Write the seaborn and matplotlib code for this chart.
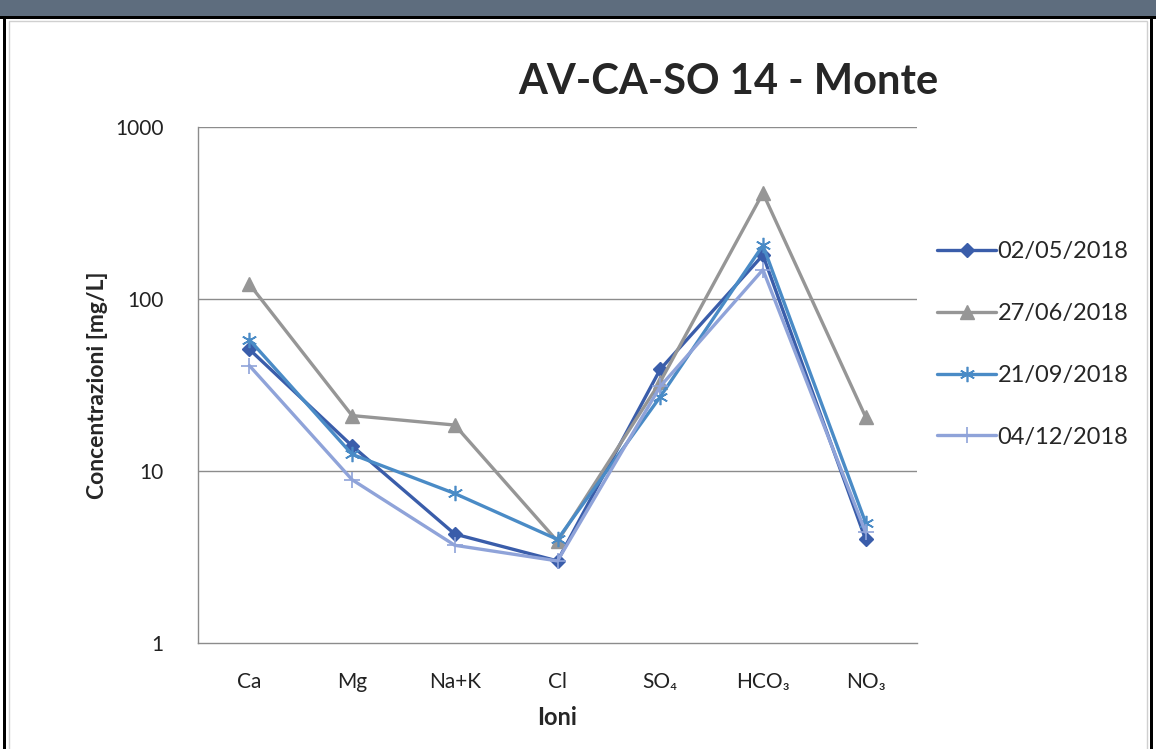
import numpy as np
import pandas as pd
import matplotlib
matplotlib.use("Agg")
import matplotlib.pyplot as plt
from matplotlib.patches import Rectangle
import seaborn as sns

# data
ions = ["Ca", "Mg", "Na+K", "Cl", "SO₄", "HCO₃", "NO₃"]
dates = ["02/05/2018", "27/06/2018", "21/09/2018", "04/12/2018"]
v_0205 = [51, 14, 4.3, 3.0, 39, 180, 4.0]
v_2706 = [122, 21, 18.5, 3.9, 33, 413, 20.6]
v_2109 = [58, 12.5, 7.4, 4.0, 27, 205, 5.0]
v_0412 = [41, 8.9, 3.7, 3.0, 31, 148, 4.4]

colors = ["#3A5DAA", "#969696", "#4A8BC6", "#8FA3D9"]
markers = ["D", "^", (6, 2, 0), "+"]
msizes = [7, 10, 11, 11]

sns.set_style("white")
plt.rcParams['font.family'] = ['Lato', 'DejaVu Sans']

fig = plt.figure(figsize=(11.56, 7.49), dpi=100)

# page decorations: header bar and frame
fig.patches.append(Rectangle((0, 1 - 16/749), 1, 16/749, transform=fig.transFigure,
                             facecolor="#5E6D7E", edgecolor="none", zorder=0))
fig.patches.append(Rectangle((0, 1 - 19/749), 1, 3/749, transform=fig.transFigure,
                             facecolor="black", edgecolor="none", zorder=0))
fig.patches.append(Rectangle((3/1156, 0), 3/1156, 1 - 16/749, transform=fig.transFigure,
                             facecolor="black", edgecolor="none", zorder=0))
fig.patches.append(Rectangle((1150/1156, 0), 3/1156, 1 - 16/749, transform=fig.transFigure,
                             facecolor="black", edgecolor="none", zorder=0))
fig.patches.append(Rectangle((9/1156, -0.01), 1138/1156, 1 - 21/749 + 0.01, transform=fig.transFigure,
                             facecolor="none", edgecolor="#D0D0D0", lw=1, zorder=0))

ax = fig.add_axes([198/1156, 1 - 643/749, 719/1156, 516/749])

x = np.arange(len(ions))
series = [v_0205, v_2706, v_2109, v_0412]
for vals, lab, c, m, ms in zip(series, dates, colors, markers, msizes):
    df = pd.DataFrame({"ione": x, "conc": vals})
    sns.lineplot(data=df, x="ione", y="conc", ax=ax, color=c, marker=m, markersize=ms,
                 markeredgecolor=c, markerfacecolor=c,
                 markeredgewidth=1.2 if (m == "+" or isinstance(m, tuple)) else 1,
                 linewidth=2.4, label=lab)

ax.set_yscale("log")
ax.set_ylim(1, 1000)
ax.set_xlim(-0.5, len(ions) - 0.5)
ax.set_yticks([1, 10, 100, 1000])
ax.set_yticklabels(["1", "10", "100", "1000"])
ax.minorticks_off()
ax.set_xticks(x)
ax.set_xticklabels(ions)
ax.tick_params(axis="both", length=0, labelsize=15, colors="#222222")
ax.tick_params(axis="x", pad=21)
ax.tick_params(axis="y", pad=25)
for yv in [10, 100, 1000]:
    ax.axhline(yv, color="#8C8C8C", lw=1, zorder=0)

for s in ["top", "right"]:
    ax.spines[s].set_visible(False)
for s in ["left", "bottom"]:
    ax.spines[s].set_color("#8C8C8C")
    ax.spines[s].set_linewidth(1)

ax.set_xlabel("Ioni", fontsize=17, fontweight="bold", labelpad=10)
ax.set_ylabel("Concentrazioni [mg/L]", fontsize=16.5, fontweight="bold", labelpad=5)

fig.text(728/1156, 1 - 82/749, "AV-CA-SO 14 - Monte", fontsize=30, fontweight="bold",
         ha="center", va="center")

leg = ax.legend(loc="upper left", bbox_to_anchor=(1.015, 0.797), frameon=False, fontsize=17,
                handlelength=2.5, handletextpad=0.05, labelspacing=1.73, borderaxespad=0)

fig.savefig("out.png", dpi=100)
